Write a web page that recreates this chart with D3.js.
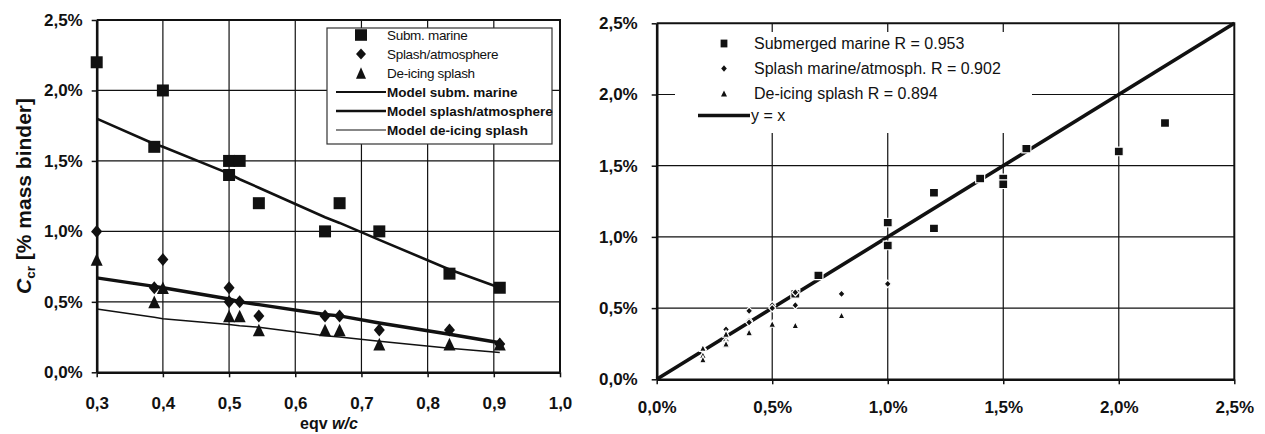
<!DOCTYPE html>
<html>
<head>
<meta charset="utf-8">
<script src="https://cdn.jsdelivr.net/npm/d3@7"></script>
<style>
  html, body { margin: 0; padding: 0; background: #fff; }
  svg { display: block; font-family: "Liberation Sans", Arial, sans-serif; }
</style>
</head>
<body>
<svg id="chart" width="1265" height="434"></svg>
<script>
// ---- Measured chloride thresholds, C_cr [% mass binder] vs eqv w/c ----
const submWc      = [0.3, 0.4, 0.387, 0.5, 0.516, 0.5, 0.545, 0.645, 0.667, 0.727, 0.833, 0.909];
const submCcr     = [2.2, 2.0, 1.6,   1.5, 1.5,   1.4, 1.2,   1.0,   1.2,   1.0,   0.7,   0.6];
const splashWc    = [0.3, 0.387, 0.4, 0.5, 0.5, 0.516, 0.545, 0.645, 0.667, 0.727, 0.833, 0.909];
const splashCcr   = [1.0, 0.6,   0.8, 0.6, 0.5, 0.5,   0.4,   0.4,   0.4,   0.3,   0.3,   0.2];
const deicingWc   = [0.3, 0.387, 0.4, 0.5, 0.516, 0.545, 0.645, 0.667, 0.727, 0.833, 0.909];
const deicingCcr  = [0.8, 0.5,   0.6, 0.4, 0.4,   0.3,   0.3,   0.3,   0.2,   0.2,   0.2];

// ---- Model predictions at the tested w/c ratios ----
const modelWc      = [0.3,  0.387, 0.4,  0.5,  0.516, 0.545, 0.645, 0.667, 0.727, 0.833, 0.909];
const modelSubm    = [1.80, 1.62,  1.60, 1.41, 1.37,  1.31,  1.10,  1.06,  0.94,  0.73,  0.60];
const modelSplash  = [0.67, 0.61,  0.60, 0.52, 0.50,  0.48,  0.41,  0.40,  0.35,  0.27,  0.21];
const modelDeicing = [0.45, 0.39,  0.38, 0.34, 0.33,  0.32,  0.26,  0.25,  0.22,  0.17,  0.14];

// ---- Axis ticks ----
const wcTicks  = [0.3, 0.4, 0.5, 0.6, 0.7, 0.8, 0.9, 1.0];
const pctTicks = [0.0, 0.5, 1.0, 1.5, 2.0, 2.5];

// ---- Legend texts ----
const leftLegend = ["Subm. marine", "Splash/atmosphere", "De-icing splash",
                    "Model subm. marine", "Model splash/atmosphere", "Model de-icing splash"];
const rightLegend = ["Submerged marine R = 0.953", "Splash marine/atmosph. R = 0.902",
                     "De-icing splash R = 0.894", "y = x"];

const svg = d3.select("#chart");
const ink = "#111";
const pct = d => d.toFixed(1).replace(".", ",") + "%";
const dec = d => d.toFixed(1).replace(".", ",");

// marker outlines, given half-width w and half-height h
const shape = {
  square:   (w, h) => `M${-w},${-h}H${w}V${h}H${-w}Z`,
  diamond:  (w, h) => `M0,${-h}L${w},0L0,${h}L${-w},0Z`,
  triangle: (w, h) => `M0,${-h}L${w},${h}L${-w},${h}Z`
};

function drawFrame(g, x, y, xTicks, yTicks, xFmt, yFmt, xPad, yPad) {
  const [x0, x1] = x.range();
  const [y0, y1] = y.range();
  // gridlines
  g.append("g").selectAll("line").data(xTicks.slice(1, -1)).join("line")
    .attr("x1", d => x(d)).attr("x2", d => x(d)).attr("y1", y0).attr("y2", y1)
    .attr("stroke", ink).attr("stroke-width", 1.2);
  g.append("g").selectAll("line").data(yTicks.slice(1, -1)).join("line")
    .attr("y1", d => y(d)).attr("y2", d => y(d)).attr("x1", x0).attr("x2", x1)
    .attr("stroke", ink).attr("stroke-width", 1.2);
  // top and right border
  g.append("path")
    .attr("d", `M${x0},${y1}H${x1}V${y0}`)
    .attr("fill", "none").attr("stroke", ink).attr("stroke-width", 2);
  // axes
  const ax = g.append("g").attr("transform", `translate(0,${y0})`)
    .call(d3.axisBottom(x).tickValues(xTicks).tickFormat(xFmt)
      .tickSize(5).tickSizeOuter(0).tickPadding(xPad));
  const ay = g.append("g").attr("transform", `translate(${x0},0)`)
    .call(d3.axisLeft(y).tickValues(yTicks).tickFormat(yFmt)
      .tickSize(5).tickSizeOuter(0).tickPadding(yPad));
  [ax, ay].forEach(a => {
    a.select(".domain").attr("stroke", ink).attr("stroke-width", 2.6);
    a.selectAll(".tick line").attr("stroke", ink).attr("stroke-width", 1.5);
    a.selectAll(".tick text").attr("fill", ink)
      .attr("font-size", 17).attr("font-weight", "bold")
      .attr("font-family", "'Liberation Sans', Arial, sans-serif");
  });
}

// ================= Left panel: C_cr vs eqv w/c =================
const xL = d3.scaleLinear().domain([0.3, 1.0]).range([96.7, 560]);
const yL = d3.scaleLinear().domain([0, 2.5]).range([372.3, 20]);
const gL = svg.append("g");
drawFrame(gL, xL, yL, wcTicks, pctTicks, dec, pct, 20, 9);

// model curves
const modelLines = [
  { v: modelSubm,    w: 2.6 },
  { v: modelSplash,  w: 3.4 },
  { v: modelDeicing, w: 1.5 }
];
const lineL = d3.line().x(d => xL(d[0])).y(d => yL(d[1]));
modelLines.forEach(m => {
  gL.append("path")
    .attr("d", lineL(modelWc.map((w, i) => [w, m.v[i]])))
    .attr("fill", "none").attr("stroke", ink).attr("stroke-width", m.w);
});

const leftSeries = [
  { wc: submWc,    c: submCcr,    s: "square",   w: 6,   h: 6 },
  { wc: splashWc,  c: splashCcr,  s: "diamond",  w: 5.5, h: 6.5 },
  { wc: deicingWc, c: deicingCcr, s: "triangle", w: 6,   h: 6.3 }
];
leftSeries.forEach(ser => {
  gL.append("g").selectAll("path").data(ser.wc.map((w, i) => [w, ser.c[i]])).join("path")
    .attr("transform", d => `translate(${xL(d[0])},${yL(d[1])})`)
    .attr("d", shape[ser.s](ser.w, ser.h))
    .attr("fill", ink);
});

// left legend
const lgL = gL.append("g");
lgL.append("rect").attr("x", 327).attr("y", 28).attr("width", 225).attr("height", 116)
  .attr("fill", "#fff").attr("stroke", "#333").attr("stroke-width", 1.2);
const legRowsL = [35, 54, 73, 92, 111, 130];
const legMarks = ["square", "diamond", "triangle"];
const legDimsL = [[6, 5.8], [5, 5.6], [5, 5.8]];
leftLegend.forEach((t, i) => {
  const yy = legRowsL[i];
  if (i < 3) {
    lgL.append("path").attr("transform", `translate(361,${yy})`)
      .attr("d", shape[legMarks[i]](...legDimsL[i])).attr("fill", ink);
  } else {
    lgL.append("line").attr("x1", 336).attr("x2", 386).attr("y1", yy).attr("y2", yy)
      .attr("stroke", ink).attr("stroke-width", modelLines[i - 3].w * 0.7);
  }
  lgL.append("text").attr("x", 387).attr("y", yy).attr("dy", "0.35em")
    .attr("font-size", 13.5).attr("fill", ink)
    .attr("font-weight", i < 3 ? "normal" : "bold")
    .attr("letter-spacing", i < 3 ? -0.3 : 0)
    .text(t);
});

// axis titles
const yt = gL.append("text")
  .attr("transform", "translate(31,196) rotate(-90)")
  .attr("text-anchor", "middle").attr("font-size", 21).attr("font-weight", "bold")
  .attr("fill", ink);
yt.append("tspan").attr("font-style", "italic").text("C");
yt.append("tspan").attr("font-size", 13.5).attr("dy", 4).text("cr");
yt.append("tspan").attr("dy", -4).text(" [% mass binder]");

const xt = gL.append("text").attr("x", 329).attr("y", 429)
  .attr("text-anchor", "middle").attr("font-size", 16).attr("font-weight", "bold").attr("fill", ink);
xt.append("tspan").text("eqv ");
xt.append("tspan").attr("font-style", "italic").text("w/c");

// ================= Right panel: model vs measured =================
const xR = d3.scaleLinear().domain([0, 2.5]).range([656.7, 1234.3]);
const yR = d3.scaleLinear().domain([0, 2.5]).range([379.3, 23.3]);
const gR = svg.append("g");
drawFrame(gR, xR, yR, pctTicks, pctTicks, pct, pct, 17, 14);

// legend background covers the gridlines behind it
gR.append("rect").attr("x", 675).attr("y", 32).attr("width", 357).attr("height", 101)
  .attr("fill", "#fff");

// y = x line
gR.append("line")
  .attr("x1", xR(0)).attr("y1", yR(0)).attr("x2", xR(2.5)).attr("y2", yR(2.5))
  .attr("stroke", ink).attr("stroke-width", 3.6);

const modelAt = (arr, w) => arr[modelWc.indexOf(w)];
const rightSeries = [
  { wc: submWc,    c: submCcr,    m: modelSubm,    s: "square",   w: 4.5, h: 4.3 },
  { wc: splashWc,  c: splashCcr,  m: modelSplash,  s: "diamond",  w: 3.5, h: 3.8 },
  { wc: deicingWc, c: deicingCcr, m: modelDeicing, s: "triangle", w: 3.5, h: 3.5 }
];
rightSeries.forEach(ser => {
  gR.append("g").selectAll("path")
    .data(ser.wc.map((w, i) => [ser.c[i], modelAt(ser.m, w)])).join("path")
    .attr("transform", d => `translate(${xR(d[0])},${yR(d[1])})`)
    .attr("d", shape[ser.s](ser.w, ser.h))
    .attr("fill", ink).attr("stroke", "#fff").attr("stroke-width", 1.2);
});

// right legend
const legRowsR = [43.5, 68.5, 93.5, 115.5];
const legDimsR = [[3.4, 3.9], [2.8, 3.2], [3, 3]];
rightLegend.forEach((t, i) => {
  const yy = legRowsR[i];
  if (i < 3) {
    gR.append("path").attr("transform", `translate(724,${yy})`)
      .attr("d", shape[legMarks[i]](...legDimsR[i])).attr("fill", ink);
    gR.append("text").attr("x", 754).attr("y", yy).attr("dy", "0.35em")
      .attr("font-size", 16).attr("fill", ink).text(t);
  } else {
    gR.append("line").attr("x1", 698).attr("x2", 750).attr("y1", yy).attr("y2", yy)
      .attr("stroke", ink).attr("stroke-width", 3.6);
    gR.append("text").attr("x", 751).attr("y", yy).attr("dy", "0.35em")
      .attr("font-size", 16).attr("fill", ink).text(t);
  }
});
</script>
</body>
</html>
